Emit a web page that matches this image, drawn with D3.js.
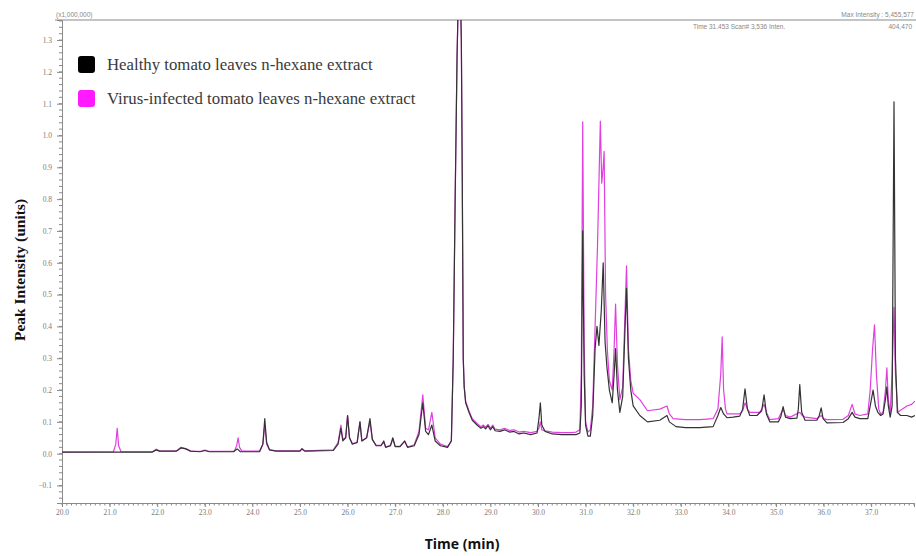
<!DOCTYPE html>
<html>
<head>
<meta charset="utf-8">
<script src="https://cdn.jsdelivr.net/npm/d3@7/dist/d3.min.js"></script>
<style>
  html, body { margin: 0; padding: 0; background: #fff; }
  svg { display: block; }
</style>
</head>
<body>
<svg id="chart" width="916" height="556"></svg>
<script>
// Retention time (min) and intensity (x1,000,000) — healthy leaves extract
const healthyTime = [
  20.00, 21.00, 21.90, 21.98, 22.05, 22.40, 22.50, 22.60, 22.70, 22.90, 23.00, 23.10,
  23.60, 23.68, 23.75, 24.15, 24.22, 24.26, 24.30, 24.36, 24.50, 25.00, 25.04, 25.10,
  25.70, 25.80, 25.86, 25.90, 25.96, 26.00, 26.04, 26.10, 26.20, 26.26, 26.30, 26.40,
  26.47, 26.52, 26.60, 26.70, 26.76, 26.80, 26.90, 26.95, 27.00, 27.10, 27.20, 27.26,
  27.40, 27.50, 27.58, 27.64, 27.70, 27.77, 27.84, 27.95, 28.10, 28.18, 28.22, 28.26,
  28.30, 28.35, 28.39, 28.41, 28.43, 28.45, 28.48, 28.55, 28.62, 28.72, 28.80, 28.85,
  28.90, 28.95, 29.00, 29.05, 29.10, 29.20, 29.30, 29.40, 29.50, 29.60, 29.70, 29.85,
  29.98, 30.02, 30.05, 30.08, 30.15, 30.30, 30.50, 30.70, 30.80, 30.88, 30.91, 30.94,
  30.97, 31.00, 31.05, 31.10, 31.15, 31.20, 31.24, 31.28, 31.33, 31.37, 31.41, 31.45,
  31.50, 31.56, 31.60, 31.63, 31.67, 31.72, 31.78, 31.83, 31.86, 31.90, 31.95, 32.00,
  32.14, 32.30, 32.56, 32.71, 32.76, 32.90, 33.10, 33.40, 33.68, 33.78, 33.84, 33.90,
  33.97, 34.10, 34.24, 34.30, 34.35, 34.40, 34.45, 34.60, 34.70, 34.75, 34.80, 34.87,
  35.05, 35.10, 35.15, 35.20, 35.30, 35.44, 35.47, 35.50, 35.54, 35.61, 35.86, 35.91,
  35.95, 35.99, 36.07, 36.41, 36.52, 36.60, 36.66, 36.76, 36.93, 36.98, 37.04, 37.09,
  37.14, 37.20, 37.25, 37.30, 37.33, 37.36, 37.40, 37.44, 37.48, 37.51, 37.55, 37.62,
  37.75, 37.85, 37.92
];
const healthyValue = [
  0.005, 0.005, 0.005, 0.012, 0.008, 0.008, 0.018, 0.015, 0.008, 0.006, 0.010, 0.006,
  0.006, 0.015, 0.006, 0.006, 0.030, 0.110, 0.035, 0.012, 0.008, 0.008, 0.015, 0.008,
  0.010, 0.030, 0.080, 0.040, 0.050, 0.120, 0.050, 0.030, 0.035, 0.100, 0.040, 0.050,
  0.110, 0.045, 0.025, 0.025, 0.040, 0.020, 0.025, 0.050, 0.022, 0.022, 0.040, 0.020,
  0.025, 0.060, 0.160, 0.070, 0.060, 0.090, 0.040, 0.025, 0.020, 0.040, 0.300, 0.800,
  1.250, 1.600, 1.300, 0.850, 0.300, 0.210, 0.160, 0.130, 0.105, 0.090, 0.080, 0.085,
  0.078, 0.088, 0.075, 0.085, 0.072, 0.070, 0.075, 0.068, 0.070, 0.062, 0.065, 0.060,
  0.065, 0.110, 0.160, 0.090, 0.070, 0.062, 0.060, 0.060, 0.060, 0.065, 0.150, 0.700,
  0.250, 0.090, 0.055, 0.055, 0.120, 0.330, 0.400, 0.340, 0.450, 0.600, 0.350, 0.270,
  0.200, 0.160, 0.250, 0.330, 0.200, 0.130, 0.180, 0.400, 0.520, 0.300, 0.200, 0.150,
  0.120, 0.100, 0.105, 0.120, 0.100, 0.085, 0.082, 0.082, 0.085, 0.120, 0.145, 0.125,
  0.113, 0.115, 0.118, 0.140, 0.204, 0.140, 0.120, 0.120, 0.135, 0.185, 0.125, 0.100,
  0.100, 0.115, 0.148, 0.115, 0.110, 0.112, 0.140, 0.217, 0.130, 0.105, 0.105, 0.120,
  0.144, 0.110, 0.097, 0.098, 0.110, 0.130, 0.115, 0.110, 0.110, 0.150, 0.200, 0.150,
  0.130, 0.120, 0.125, 0.170, 0.210, 0.150, 0.115, 0.150, 1.106, 0.300, 0.130, 0.120,
  0.120, 0.115, 0.120
];

// Retention time (min) and intensity (x1,000,000) — virus-infected leaves extract
const infectedTime = [
  20.00, 21.08, 21.13, 21.16, 21.19, 21.24, 21.90, 21.98, 22.05, 22.40, 22.50, 22.60,
  22.70, 22.90, 23.00, 23.10, 23.62, 23.67, 23.70, 23.73, 23.78, 24.15, 24.22, 24.26,
  24.30, 24.36, 24.50, 25.00, 25.04, 25.10, 25.70, 25.80, 25.86, 25.90, 25.96, 26.00,
  26.04, 26.10, 26.20, 26.26, 26.30, 26.40, 26.47, 26.52, 26.60, 26.70, 26.76, 26.80,
  26.90, 26.95, 27.00, 27.10, 27.20, 27.26, 27.40, 27.50, 27.58, 27.64, 27.70, 27.77,
  27.84, 27.95, 28.10, 28.18, 28.22, 28.26, 28.30, 28.35, 28.39, 28.41, 28.43, 28.45,
  28.48, 28.55, 28.62, 28.72, 28.80, 28.85, 28.90, 28.95, 29.00, 29.05, 29.10, 29.20,
  29.30, 29.40, 29.50, 29.60, 29.70, 29.85, 29.98, 30.02, 30.05, 30.08, 30.15, 30.30,
  30.50, 30.70, 30.80, 30.88, 30.91, 30.94, 30.97, 31.00, 31.05, 31.10, 31.15, 31.20,
  31.25, 31.31, 31.34, 31.37, 31.39, 31.42, 31.46, 31.50, 31.56, 31.60, 31.63, 31.67,
  31.72, 31.78, 31.83, 31.86, 31.90, 31.95, 32.00, 32.14, 32.30, 32.56, 32.71, 32.76,
  32.84, 33.10, 33.40, 33.68, 33.78, 33.84, 33.87, 33.90, 33.94, 33.97, 34.24, 34.30,
  34.35, 34.40, 34.45, 34.66, 34.70, 34.75, 34.80, 34.87, 35.05, 35.15, 35.20, 35.30,
  35.50, 35.55, 35.61, 35.86, 35.95, 36.00, 36.07, 36.41, 36.52, 36.60, 36.66, 36.76,
  36.93, 36.98, 37.03, 37.07, 37.11, 37.16, 37.20, 37.25, 37.30, 37.33, 37.36, 37.40,
  37.44, 37.48, 37.51, 37.56, 37.65, 37.75, 37.85, 37.92
];
const infectedValue = [
  0.005, 0.006, 0.030, 0.080, 0.025, 0.006, 0.006, 0.014, 0.008, 0.008, 0.020, 0.016,
  0.008, 0.007, 0.011, 0.007, 0.008, 0.025, 0.050, 0.020, 0.008, 0.008, 0.030, 0.090,
  0.030, 0.012, 0.009, 0.009, 0.016, 0.009, 0.012, 0.035, 0.090, 0.045, 0.050, 0.120,
  0.050, 0.032, 0.035, 0.100, 0.040, 0.050, 0.100, 0.045, 0.026, 0.026, 0.035, 0.021,
  0.026, 0.045, 0.023, 0.023, 0.038, 0.021, 0.028, 0.070, 0.185, 0.080, 0.075, 0.130,
  0.050, 0.030, 0.022, 0.040, 0.300, 0.800, 1.250, 1.600, 1.300, 0.850, 0.300, 0.210,
  0.165, 0.135, 0.110, 0.095, 0.085, 0.090, 0.083, 0.092, 0.080, 0.090, 0.077, 0.075,
  0.080, 0.073, 0.075, 0.068, 0.070, 0.066, 0.070, 0.080, 0.100, 0.075, 0.072, 0.068,
  0.066, 0.066, 0.068, 0.075, 0.250, 1.043, 0.350, 0.100, 0.068, 0.075, 0.150, 0.400,
  0.650, 1.045, 0.850, 0.900, 0.950, 0.500, 0.320, 0.230, 0.200, 0.330, 0.470, 0.280,
  0.170, 0.210, 0.450, 0.590, 0.330, 0.230, 0.190, 0.170, 0.135, 0.140, 0.150, 0.125,
  0.110, 0.107, 0.107, 0.110, 0.140, 0.250, 0.367, 0.200, 0.140, 0.125, 0.125, 0.135,
  0.160, 0.140, 0.130, 0.130, 0.140, 0.155, 0.130, 0.107, 0.110, 0.140, 0.120, 0.115,
  0.130, 0.120, 0.115, 0.110, 0.120, 0.110, 0.107, 0.108, 0.120, 0.155, 0.125, 0.120,
  0.125, 0.200, 0.330, 0.405, 0.250, 0.140, 0.125, 0.130, 0.200, 0.270, 0.170, 0.130,
  0.250, 0.460, 0.250, 0.130, 0.140, 0.150, 0.155, 0.165
];

// Axis ticks
const xTickLabels = [20, 21, 22, 23, 24, 25, 26, 27, 28, 29, 30, 31, 32, 33, 34, 35, 36, 37];
const yTickLabels = [-0.1, 0.0, 0.1, 0.2, 0.3, 0.4, 0.5, 0.6, 0.7, 0.8, 0.9, 1.0, 1.1, 1.2, 1.3];

const seriesNames = [
  "Healthy tomato leaves n-hexane extract",
  "Virus-infected tomato leaves n-hexane extract"
];
const seriesColors = ["#000000", "#ff1aff"];
const lineColors = ["#333333", "#e040e0"];

const svg = d3.select("#chart");
const plot = { left: 62, right: 914, top: 20, bottom: 503 };

const x = d3.scaleLinear().domain([20, 37.9]).range([plot.left, plot.right]);
const y = d3.scaleLinear().domain([-0.155, 1.363]).range([plot.bottom, plot.top]);

// Clip traces to the plotting frame
svg.append("defs").append("clipPath").attr("id", "plotClip")
  .append("rect")
  .attr("x", plot.left).attr("y", plot.top)
  .attr("width", plot.right - plot.left + 2).attr("height", plot.bottom - plot.top);

// Minor ticks
const xMinor = d3.range(0, 180).map(i => 20 + i * 0.1);
const yMinor = d3.range(0, 76).map(i => -0.14 + i * 0.02);

const axisColor = "#8a8a8a";
const tickText = "#7a7a7a";

// Bottom axis
const xAxis = d3.axisBottom(x)
  .tickValues(xTickLabels)
  .tickFormat(d3.format(".1f"))
  .tickSize(4)
  .tickPadding(3);
const gx = svg.append("g").attr("transform", `translate(0,${plot.bottom})`).call(xAxis);
gx.select(".domain").attr("stroke", axisColor);
gx.selectAll(".tick line").attr("stroke", axisColor);
gx.selectAll(".tick text").attr("fill", tickText)
  .style("font-family", "'Liberation Serif', serif").style("font-size", "7.5px");
gx.append("g").selectAll("line").data(xMinor).join("line")
  .attr("x1", d => x(d)).attr("x2", d => x(d))
  .attr("y1", 0).attr("y2", 2.5)
  .attr("stroke", axisColor).attr("stroke-width", 1);

// Left axis
const yAxis = d3.axisLeft(y)
  .tickValues(yTickLabels)
  .tickFormat(d3.format(".1f"))
  .tickSize(5)
  .tickPadding(5);
const gy = svg.append("g").attr("transform", `translate(${plot.left},0)`).call(yAxis);
gy.select(".domain").attr("stroke", axisColor);
gy.selectAll(".tick line").attr("stroke", axisColor);
gy.selectAll(".tick text").attr("fill", tickText)
  .style("font-family", "'Liberation Serif', serif").style("font-size", "7.5px");
gy.append("g").selectAll("line").data(yMinor).join("line")
  .attr("x1", -3).attr("x2", 0)
  .attr("y1", d => y(d)).attr("y2", d => y(d))
  .attr("stroke", axisColor).attr("stroke-width", 1);

// Top frame line
svg.append("line")
  .attr("x1", 55).attr("x2", 916)
  .attr("y1", plot.top).attr("y2", plot.top)
  .attr("stroke", axisColor).attr("stroke-width", 1.2);

// Instrument header text
const header = svg.append("g")
  .style("font-family", "'Liberation Sans', sans-serif")
  .style("font-size", "6.5px")
  .attr("fill", "#888");
header.append("text").attr("x", 56).attr("y", 17).text("(x1,000,000)");
header.append("text").attr("x", 914).attr("y", 17).attr("text-anchor", "end")
  .text("Max Intensity : 5,455,577");
header.append("text").attr("x", 693).attr("y", 29).text("Time   31.453    Scan# 3,536    Inten.");
header.append("text").attr("x", 912).attr("y", 29).attr("text-anchor", "end").text("404,470");

// Chromatogram traces
const line = d3.line()
  .x(d => x(d[0]))
  .y(d => y(d[1]));

const traces = [
  { t: infectedTime, v: infectedValue, color: lineColors[1] },
  { t: healthyTime, v: healthyValue, color: lineColors[0] }
];

const gTraces = svg.append("g").attr("clip-path", "url(#plotClip)");
traces.forEach(s => {
  gTraces.append("path")
    .datum(s.t.map((t, i) => [t, s.v[i]]))
    .attr("fill", "none")
    .attr("stroke", s.color)
    .attr("stroke-width", 1.2)
    .attr("stroke-linejoin", "round")
    .attr("d", line);
});

// Legend
const legend = svg.append("g");
seriesNames.forEach((name, i) => {
  const g = legend.append("g").attr("transform", `translate(78,${56 + i * 34})`);
  g.append("rect")
    .attr("width", 17).attr("height", 17)
    .attr("rx", 3).attr("ry", 3)
    .attr("fill", seriesColors[i]);
  g.append("text")
    .attr("x", 29).attr("y", 14)
    .style("font-family", "'Liberation Serif', 'Times New Roman', serif")
    .style("font-size", "16.8px")
    .attr("fill", "#3a3a3a")
    .text(name);
});

// Axis titles
svg.append("text")
  .attr("transform", "translate(25,270) rotate(-90)")
  .attr("text-anchor", "middle")
  .style("font-family", "'Liberation Serif', 'Times New Roman', serif")
  .style("font-weight", "bold")
  .style("font-size", "15.5px")
  .attr("fill", "#111")
  .text("Peak Intensity (units)");

svg.append("text")
  .attr("x", 462).attr("y", 549)
  .attr("text-anchor", "middle")
  .style("font-family", "'Open Sans', sans-serif")
  .style("font-weight", "bold")
  .style("font-size", "14px")
  .attr("fill", "#111")
  .text("Time (min)");
</script>
</body>
</html>
